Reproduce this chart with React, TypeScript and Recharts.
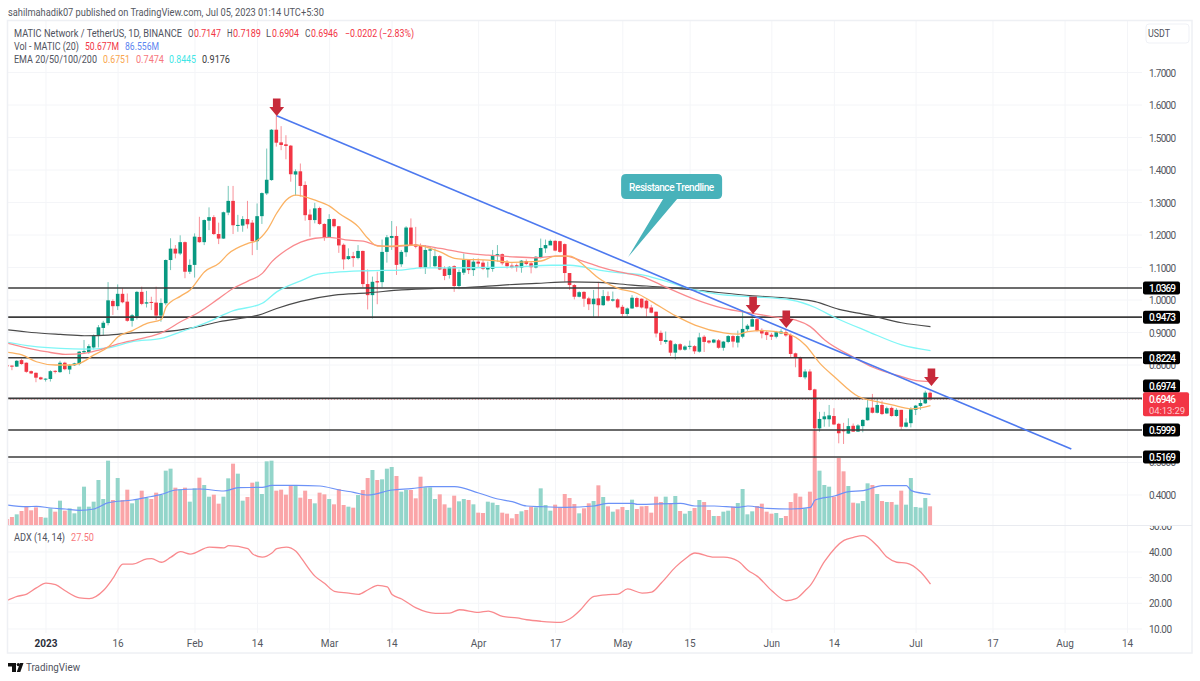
import React from 'react';
import { ComposedChart, Bar, Line, XAxis, YAxis, CartesianGrid, ReferenceLine, ReferenceDot } from 'recharts';

// Day numbers count from 1 Jan 2023 = 0. First candle is day -8.
const FIRST_DAY = -8;
// [open, high, low, close]
const candlesDecFeb: number[][] = [
[.799,.800,.795,.796],[.798,.799,.784,.795],[.795,.815,.794,.813],[.815,.819,.801,.803],[.807,.808,.776,.779],[.781,.783,.772,.774],[.776,.777,.747,.761],[.762,.764,.754,.756],
[.755,.759,.749,.758],[.757,.784,.749,.781],[.782,.784,.774,.779],[.778,.813,.776,.807],[.807,.810,.784,.787],[.786,.803,.772,.799],[.799,.807,.797,.805],[.803,.843,.799,.841],[.839,.877,.836,.843],[.840,.864,.834,.858],[.854,.894,.848,.890],[.889,.923,.854,.916],[.914,.936,.892,.930],[.929,1.055,.922,.999],[.997,1.002,.954,.981],[.981,1.048,.969,1.019],[1.019,1.036,.990,.993],[.995,1.020,.933,.936],[.936,.957,.918,.953],[.949,1.028,.940,1.025],[1.025,1.041,.984,.988],[.989,1.028,.977,.993],[.994,1.010,.969,.992],[.992,1.041,.938,.952],[.952,1.005,.933,.991],[.990,1.125,.984,1.123],[1.123,1.190,1.092,1.158],[1.158,1.169,1.128,1.143],[1.143,1.199,1.138,1.178],[1.178,1.180,1.067,1.087],[1.087,1.125,1.080,1.108],[1.108,1.205,1.069,1.195],
[1.194,1.256,1.176,1.178],[1.178,1.248,1.169,1.246],[1.244,1.285,1.215,1.255],[1.255,1.261,1.200,1.203],[1.203,1.238,1.172,1.189],[1.189,1.272,1.188,1.270],[1.269,1.351,1.261,1.305],[1.305,1.351,1.203,1.230],[1.229,1.262,1.210,1.231],[1.229,1.258,1.210,1.249],[1.249,1.305,1.220,1.233],[1.238,1.246,1.138,1.181],[1.181,1.297,1.154,1.258],[1.258,1.331,1.234,1.329],[1.328,1.466,1.323,1.370],[1.369,1.526,1.367,1.524],[1.524,1.568,1.472,1.484],[1.485,1.535,1.461,1.477],[1.479,1.507,1.433,1.474],[1.475,1.477,1.364,1.387],[1.386,1.402,1.321,1.396],[1.396,1.420,1.318,1.351],
];
const candlesFebApr: number[][] = [
[1.354,1.365,1.244,1.261],[1.263,1.279,1.195,1.246],[1.246,1.299,1.236,1.282],[1.283,1.287,1.231,1.234],[1.234,1.236,1.182,1.193],[1.193,1.264,1.192,1.249],[1.249,1.251,1.223,1.227],[1.227,1.228,1.145,1.168],[1.170,1.174,1.094,1.125],[1.126,1.159,1.123,1.135],[1.135,1.148,1.102,1.129],[1.129,1.169,1.125,1.151],[1.151,1.152,1.039,1.049],[1.049,1.094,.971,1.015],[1.015,1.072,.943,1.056],[1.058,1.087,.987,1.054],[1.055,1.186,1.039,1.148],[1.148,1.200,1.115,1.193],[1.191,1.243,1.154,1.197],[1.197,1.227,1.077,1.108],[1.110,1.154,1.102,1.148],[1.147,1.227,1.133,1.223],[1.223,1.251,1.168,1.169],[1.171,1.225,1.159,1.164],[1.166,1.174,1.097,1.100],[1.100,1.169,1.080,1.154],[1.152,1.164,1.100,1.156],[1.104,1.159,1.100,1.135],[1.135,1.138,1.092,1.094],[1.097,1.104,1.061,1.074],[1.077,1.104,1.066,1.102],[1.104,1.107,1.025,1.043],[1.043,1.094,1.033,1.086],[1.084,1.143,1.077,1.123],[1.123,1.125,1.080,1.092],[1.092,1.128,1.074,1.118],[1.118,1.128,1.100,1.112],
[1.115,1.123,1.092,1.096],[1.094,1.118,1.069,1.099],[1.096,1.154,1.087,1.138],[1.137,1.169,1.118,1.141],[1.141,1.143,1.107,1.113],[1.115,1.123,1.097,1.104],[1.106,1.113,1.097,1.100],[1.107,1.112,1.087,1.101],[1.100,1.123,1.084,1.121],[1.120,1.125,1.107,1.111],[1.113,1.118,1.082,1.101],[1.100,1.135,1.097,1.133],[1.132,1.189,1.128,1.160],[1.159,1.186,1.145,1.169],[1.168,1.186,1.169,1.182],[1.182,1.184,1.150,1.152],[1.181,1.182,1.145,1.148],[1.172,1.174,1.056,1.083],
];
const candlesAprJul: number[][] = [
[1.083,1.083,1.031,1.046],[1.046,1.049,1.002,1.010],[1.010,1.027,1.008,1.024],[1.025,1.027,.979,1.004],[1.005,1.010,.969,.987],[.987,1.031,.948,1.004],[1.005,1.056,.948,.984],[.984,1.031,.982,1.012],[1.012,1.026,.995,.998],[.998,1.026,.995,1.002],[1.002,1.005,.974,.977],[.979,.985,.947,.957],[.957,.977,.951,.974],[.974,1.015,.973,1.007],[1.006,1.010,.977,.979],[1.004,1.005,.974,.977],[.998,1.002,.947,.974],[.977,.985,.959,.961],[.964,.964,.885,.897],[.899,.906,.862,.874],[.871,.903,.865,.877],[.875,.877,.828,.838],[.838,.867,.817,.864],[.864,.867,.844,.847],[.847,.861,.844,.857],[.856,.875,.848,.859],[.858,.861,.834,.842],[.841,.899,.838,.885],[.887,.892,.840,.871],[.875,.877,.865,.869],[.869,.880,.867,.878],[.876,.880,.850,.853],[.853,.874,.844,.872],[.871,.892,.867,.889],[.889,.892,.854,.872],[.869,.906,.854,.889],[.887,.969,.882,.911],[.910,.926,.903,.921],[.918,.954,.918,.941],[.941,.947,.903,.905],[.908,.913,.882,.897],[.901,.905,.877,.892],[.893,.899,.877,.887],[.887,.905,.882,.901],[.897,.910,.895,.903],[.901,.908,.887,.891],[.892,.897,.824,.834],[.836,.838,.793,.824],[.824,.826,.762,.763],[.762,.787,.756,.780],[.780,.787,.721,.723],[.725,.727,.513,.605],[.605,.656,.595,.634],[.633,.656,.610,.642],[.633,.677,.610,.645],[.643,.667,.615,.617],[.619,.622,.559,.590],[.600,.622,.557,.596],[.589,.636,.588,.612],[.613,.620,.594,.595],[.595,.618,.594,.614],[.612,.633,.593,.631],[.630,.697,.629,.669],[.669,.711,.651,.653],[.653,.695,.651,.677],[.677,.690,.646,.649],[.651,.672,.649,.667],[.668,.672,.641,.643],[.643,.667,.641,.662],[.662,.662,.602,.610],[.610,.636,.608,.623],[.621,.670,.608,.664],[.662,.677,.646,.675],[.674,.694,.662,.683],[.682,.721,.680,.715],[.7147,.7189,.6904,.6946],
];
const volumesDecMar = [18,24,32,42,55,44,53,24,22,50,40,73,43,50,35,55,115,55,70,135,78,193,75,141,75,106,65,77,103,82,78,97,90,163,169,112,107,112,70,110,142,120,85,91,64,85,140,184,154,73,84,127,130,93,191,193,103,106,91,120,117,82,103,78,65,97,92,78,62,108,60,55,52,90,105,141,165,135,137,169,174,147,100,105,105,80,145,113,113,78,92,62,52,88,71,78,75,62,37];
const volumesAprJul = [36,70,67,60,37,34,20,33,41,45,55,53,110,60,43,61,53,93,81,63,35,50,65,72,119,84,56,40,47,54,45,76,48,56,57,37,85,69,85,63,87,42,34,42,51,75,69,45,27,27,40,43,55,66,108,32,41,57,64,40,34,36,21,27,69,95,85,50,100,285,163,120,115,85,201,161,117,67,65,72,125,120,93,72,69,69,61,103,61,141,54,52,81,56];

const ema20: number[][] = [[-8,.839],[-5,.831],[-2,.810],[2,.800],[5,.800],[7,.805],[10,.831],[13,.856],[15,.887],[18,.906],[21,.928],[24,.940],[25,.979],[28,1.012],[30,1.031],[33,1.087],[36,1.113],[38,1.143],[42,1.174],[44,1.184],[46,1.215],[48,1.267],[50,1.308],[52,1.323],[56,1.307],[59,1.289],[61,1.266],[65,1.225],[67,1.189],[69,1.166],[72,1.166],[75,1.169],[77,1.169],[80,1.159],[82,1.148],[85,1.128],[87,1.125],[92,1.123],[94,1.120],[97,1.116],[101,1.118],[103,1.120],[106,1.135],[109,1.135],[111,1.118],[113,1.092],[115,1.067],[119,1.036],[123,1.020],[126,.995],[131,.951],[135,.923],[141,.899],[144,.895],[146,.903],[149,.906],[154,.897],[158,.861],[161,.805],[164,.764],[169,.703],[173,.687],[176,.677],[180,.665],[184,.675]];
const ema50: number[][] = [[-8,.867],[-5,.856],[0,.841],[4,.833],[8,.836],[11,.846],[15,.865],[20,.882],[24,.899],[28,.933],[32,.964],[36,1.005],[39,1.036],[42,1.058],[45,1.082],[47,1.118],[50,1.154],[53,1.178],[56,1.190],[59,1.193],[63,1.184],[66,1.181],[69,1.167],[72,1.164],[77,1.169],[82,1.159],[87,1.145],[92,1.138],[97,1.133],[102,1.130],[106,1.135],[108,1.136],[111,1.123],[115,1.103],[119,1.087],[124,1.072],[128,1.046],[135,1.002],[141,.974],[147,.959],[151,.949],[156,.938],[159,.918],[162,.877],[168,.824],[172,.793],[178,.764],[181,.752],[184,.749]];
const ema100: number[][] = [[-8,.870],[-3,.858],[3,.851],[8,.849],[13,.853],[18,.872],[24,.882],[28,.902],[33,.928],[39,.967],[45,.990],[48,1.025],[53,1.059],[56,1.077],[60,1.085],[67,1.090],[74,1.092],[78,1.099],[84,1.099],[91,1.100],[98,1.102],[105,1.107],[109,1.107],[115,1.092],[119,1.084],[124,1.077],[128,1.062],[135,1.031],[140,1.017],[147,1.010],[155,1.000],[160,.977],[164,.947],[171,.903],[178,.862],[184,.844]];
const ema200: number[][] = [[-8,.908],[-3,.900],[3,.894],[8,.890],[13,.892],[18,.899],[24,.902],[31,.916],[36,.933],[45,.957],[48,.974],[53,.996],[60,1.015],[67,1.022],[74,1.031],[81,1.036],[88,1.039],[95,1.046],[102,1.051],[109,1.056],[115,1.054],[122,1.046],[129,1.039],[136,1.029],[147,1.013],[155,1.005],[160,.995],[165,.971],[171,.954],[178,.930],[184,.918]];
const volumeMa: number[][] = [[-8,60],[-4,55],[-2,56],[1,51],[4,48],[7,44],[10,48],[13,67],[18,75],[21,83],[24,92],[27,105],[32,108],[37,102],[40,112],[45,113],[47,119],[52,119],[57,117],[61,105],[64,98],[67,90],[72,105],[76,109],[80,115],[85,115],[90,96],[94,78],[97,70],[100,57],[103,55],[108,53],[114,57],[117,65],[122,65],[123,62],[132,65],[135,57],[139,57],[144,53],[146,57],[150,50],[155,48],[159,53],[160,75],[164,87],[167,100],[170,103],[174,118],[179,118],[180,103],[184,92]];
const adx: number[][] = [[-8,21.2],[-6,22.7],[-4,23.6],[-2,26],[0,27.9],[2,27.3],[4,24.9],[7,22.1],[9,21.8],[12,25.1],[14,29.9],[16,35.3],[18,35.3],[21,37.3],[22,37.4],[24,36],[26,38],[28,40.1],[30,39.2],[34,41.9],[37,41.6],[38,42.5],[42,41.3],[43,39.2],[45,38],[47,39.6],[48,41.3],[50,41.9],[52,40.3],[53,37.9],[56,30.5],[58,27.7],[60,24.7],[63,24],[65,23.5],[67,25.3],[69,27],[71,26.4],[72,23.4],[74,21.7],[77,18.2],[81,16.1],[84,16.2],[86,17.5],[90,16.5],[92,17],[95,14.9],[98,14.3],[100,13.6],[103,13],[107,12.6],[109,14],[111,17.1],[114,22.7],[117,23.4],[119,23.6],[121,25.6],[124,24],[126,24.4],[128,27.9],[131,34.2],[133,37.4],[135,39.6],[139,38],[141,38],[144,36.4],[146,32.9],[148,30.5],[151,24.9],[154,21],[156,21.8],[158,25.1],[159,27],[162,36.4],[166,44.5],[168,45.7],[170,46.4],[173,42.2],[175,37.9],[177,36],[179,35.7],[182,32.1],[184,27.5]];

const priceTicks = [0.4,0.5,0.6,0.7,0.8,0.9,1.0,1.1,1.2,1.3,1.4,1.5,1.6,1.7];
const levels = [1.0369,0.9473,0.8224,0.6974,0.5999,0.5169];
const lastPrice = 0.6946;
const countdown = '04:13:29';
const adxTicks = [50,40,30,20,10];
const dateTicks = [0,15,31,44,59,72,90,106,120,134,151,164,181,197,212,225];
const dateLabels = ['2023','16','Feb','14','Mar','14','Apr','17','May','15','Jun','14','Jul','17','Aug','14'];
const trendline = [{ x: 48, y: 1.567 }, { x: 213.3, y: 0.5415 }];
const arrows: number[][] = [[48,1.566],[147.1,0.957],[154,0.914],[184.2,0.735]];
const calloutTip = [121.1, 1.132];
const calloutText = 'Resistance Trendline';

const FONT = 'Roboto, "Noto Sans", sans-serif';
const UP = '#089981', DOWN = '#f23645';
const VOL_UP = '#93d5ca', VOL_DOWN = '#faa5a8';
const GRID = '#f4f5f8';
const X_DOMAIN: [number, number] = [-7.9, 228];

const allCandles = [...candlesDecFeb, ...candlesFebApr, ...candlesAprJul];
const allVolumes = [...volumesDecMar, ...volumesAprJul];
const lookup = (list: number[][]) => new Map(list.map(([d, v]) => [d, v]));
const m20 = lookup(ema20), m50 = lookup(ema50), m100 = lookup(ema100), m200 = lookup(ema200), mVol = lookup(volumeMa), mAdx = lookup(adx);
const rows = allCandles.map(([o, h, l, c], i) => {
  const day = FIRST_DAY + i;
  return {
    day, o, h, l, c, range: [l, h], vol: allVolumes[i],
    e20: m20.get(day) ?? null, e50: m50.get(day) ?? null, e100: m100.get(day) ?? null,
    e200: m200.get(day) ?? null, volMa: mVol.get(day) ?? null, adx: mAdx.get(day) ?? null,
  };
});

function Candle(p: any) {
  const { x, y, width, height, payload } = p;
  if (height == null || !payload) return null;
  const { o, h, l, c } = payload;
  const py = (v: number) => y + ((h - v) / (h - l)) * height;
  const color = c >= o ? UP : DOWN;
  const top = Math.min(py(o), py(c));
  const bh = Math.max(Math.abs(py(o) - py(c)), 1);
  const cx = x + width / 2;
  return (
    <g>
      <line x1={cx} x2={cx} y1={y} y2={y + height} stroke={color} strokeOpacity={0.55} strokeWidth={1} />
      <rect x={cx - 1.8} y={top} width={3.6} height={bh} fill={color} />
    </g>
  );
}
function VolumeBar(p: any) {
  const { x, y, width, height, payload } = p;
  return <rect x={x} y={y} width={width} height={height} fill={payload.c >= payload.o ? VOL_UP : VOL_DOWN} />;
}
function PriceTick(p: any) {
  const { x, y, payload } = p;
  const v = payload.value;
  const label = v.toFixed(4);
  if (v === lastPrice) {
    return (
      <g>
        <rect x={x - 6} y={y - 7} width={46} height={24} rx={2} fill={DOWN} />
        <text x={x} y={y + 0.5} fontSize={10} fontFamily={FONT} fontWeight={500} fill="#fff" dominantBaseline="central" textLength={27}>{label}</text>
        <text x={x} y={y + 11} fontSize={9.5} fontFamily={FONT} fill="#ffc9cd" dominantBaseline="central" textLength={36}>{countdown}</text>
      </g>
    );
  }
  if (levels.includes(v)) {
    const cy = v === 0.6974 ? y - 12.3 : y;
    return (
      <g>
        <rect x={x - 6} y={cy - 6.5} width={37} height={13} rx={2} fill="#000" />
        <text x={x} y={cy + 0.5} fontSize={10} fontFamily={FONT} fontWeight={500} fill="#fff" dominantBaseline="central" textLength={27}>{label}</text>
      </g>
    );
  }
  return <text x={x} y={y + 0.5} fontSize={10} fontFamily={FONT} fill="#545760" dominantBaseline="central" textLength={27}>{label}</text>;
}
function AdxTick(p: any) {
  const { x, y, payload } = p;
  const id = 'adxclip' + payload.value;
  return (
    <g>
      <clipPath id={id}><rect x={x - 2} y={y - 8} width={40} height={payload.value === 10 ? 12 : 16} /></clipPath>
      <text x={x} y={y + 0.5} fontSize={10} fontFamily={FONT} fill="#545760" dominantBaseline="central" textLength={23} clipPath={`url(#${id})`}>{payload.value.toFixed(2)}</text>
    </g>
  );
}
function DateTick(p: any) {
  const { x, y, payload } = p;
  const i = dateTicks.indexOf(payload.value);
  const bold = dateLabels[i] === '2023';
  return <text x={x} y={y} fontSize={10} fontFamily={FONT} fontWeight={bold ? 700 : 400} fill={bold ? '#2a2e39' : '#545760'} textAnchor="middle" dominantBaseline="central">{dateLabels[i]}</text>;
}
function ArrowMark(p: any) {
  const { cx, cy } = p;
  const d = `M${cx - 3.8} ${cy - 17.5}H${cx + 3.8}V${cy - 9}H${cx + 7.4}L${cx} ${cy}L${cx - 7.4} ${cy - 9}H${cx - 3.8}Z`;
  return <path d={d} fill="#c72a3a" />;
}
function Callout(p: any) {
  const { cx, cy } = p;
  const l = cx - 7, r = cx + 94, t = cy - 83, b = cy - 58, q = 5;
  const d = `M${l + q} ${t}H${r - q}Q${r} ${t} ${r} ${t + q}V${b - q}Q${r} ${b} ${r - q} ${b}H${cx + 49}L${cx} ${cy}L${cx + 35} ${b}H${l + q}Q${l} ${b} ${l} ${b - q}V${t + q}Q${l} ${t} ${l + q} ${t}Z`;
  return (
    <g>
      <path d={d} fill="#48b2ba" />
      <text x={cx + 1} y={cy - 70} fontSize={10} fontFamily={FONT} fontWeight={500} fill="#fff" dominantBaseline="central" textLength={85}>{calloutText}</text>
    </g>
  );
}
function T({ x, y, w, fill = '#50535e', size = 10, weight = 400, children }: any) {
  return <text x={x} y={y} textLength={w} lengthAdjust="spacingAndGlyphs" fontSize={size} fontWeight={weight} fontFamily={FONT} fill={fill} dominantBaseline="central">{children}</text>;
}

const hiddenX = (id: string) => (
  <XAxis key={id} xAxisId={id} dataKey="day" type="number" domain={X_DOMAIN} allowDataOverflow hide ticks={dateTicks} />
);

export default function App() {
  return (
    <div style={{ position: 'absolute', left: 0, top: 0, width: 1200, height: 681, background: '#fff', overflow: 'hidden' }}>
      <div style={{ position: 'absolute', left: 0, top: 0 }}>
        <ComposedChart width={1200} height={526} data={rows} margin={{ top: 21, right: 0, bottom: 0, left: 8 }}>
          {hiddenX('main')}
          {hiddenX('vol')}
          <YAxis yAxisId="price" orientation="right" type="number" domain={[0.3046, 1.8585]} allowDataOverflow width={58}
            ticks={[...priceTicks, ...levels, lastPrice]} interval={0} tick={<PriceTick />} tickLine={false} axisLine={false} tickMargin={7} tickSize={0} />
          <YAxis yAxisId="volume" hide type="number" domain={[-3, 1512]} allowDataOverflow />
          <CartesianGrid xAxisId="main" yAxisId="price" stroke={GRID} strokeWidth={1} horizontalValues={priceTicks} verticalValues={dateTicks} />
          <Bar xAxisId="vol" yAxisId="volume" dataKey="vol" barSize={4} shape={<VolumeBar />} isAnimationActive={false} />
          <Line xAxisId="vol" yAxisId="volume" dataKey="volMa" type="monotone" connectNulls dot={false} stroke="#6c92f7" strokeWidth={1.2} isAnimationActive={false} />
          <ReferenceLine xAxisId="main" yAxisId="price" y={lastPrice} stroke={DOWN} strokeOpacity={0.7} strokeWidth={0.8} strokeDasharray="1 2" />
          {levels.map((v) => (
            <ReferenceLine key={v} xAxisId="main" yAxisId="price" y={v} stroke="#3b3b3b" strokeWidth={1.6} />
          ))}
          <Bar xAxisId="main" yAxisId="price" dataKey="range" barSize={4} shape={<Candle />} isAnimationActive={false} />
          <Line xAxisId="main" yAxisId="price" dataKey="e200" type="monotone" connectNulls dot={false} stroke="#4a4a4a" strokeWidth={1.2} isAnimationActive={false} />
          <Line xAxisId="main" yAxisId="price" dataKey="e100" type="monotone" connectNulls dot={false} stroke="#7ff6f6" strokeWidth={1.3} isAnimationActive={false} />
          <Line xAxisId="main" yAxisId="price" dataKey="e50" type="monotone" connectNulls dot={false} stroke="#f98a8e" strokeWidth={1.3} isAnimationActive={false} />
          <Line xAxisId="main" yAxisId="price" dataKey="e20" type="monotone" connectNulls dot={false} stroke="#fbb263" strokeWidth={1.3} isAnimationActive={false} />
          <ReferenceLine xAxisId="main" yAxisId="price" segment={trendline} stroke="#4d79ef" strokeWidth={1.6} ifOverflow="visible" />
          {arrows.map(([d, v]) => (
            <ReferenceDot key={d} xAxisId="main" yAxisId="price" x={d} y={v} shape={<ArrowMark />} ifOverflow="visible" />
          ))}
          <ReferenceDot xAxisId="main" yAxisId="price" x={calloutTip[0]} y={calloutTip[1]} shape={<Callout />} ifOverflow="visible" />
        </ComposedChart>
      </div>
      <div style={{ position: 'absolute', left: 0, top: 525 }}>
        <ComposedChart width={1200} height={130} data={rows} margin={{ top: 1, right: 0, bottom: 0, left: 8 }}>
          <XAxis dataKey="day" type="number" domain={X_DOMAIN} allowDataOverflow ticks={dateTicks} interval={0} height={22}
            tick={<DateTick />} tickLine={false} axisLine={false} tickMargin={10} tickSize={0} />
          <YAxis orientation="right" type="number" domain={[8.44, 50.12]} allowDataOverflow width={58} ticks={adxTicks} interval={0}
            tick={<AdxTick />} tickLine={false} axisLine={false} tickMargin={7} tickSize={0} />
          <CartesianGrid stroke={GRID} strokeWidth={1} horizontalValues={[40, 30, 20, 10]} verticalValues={dateTicks} />
          <Line dataKey="adx" type="monotone" connectNulls dot={false} stroke="#f98a8e" strokeWidth={1.3} isAnimationActive={false} />
        </ComposedChart>
      </div>
      <svg width={1200} height={681} style={{ position: 'absolute', left: 0, top: 0, pointerEvents: 'none' }}>
        <rect x={7.5} y={20.5} width={1184.5} height={632.5} fill="none" stroke="#eef0f4" strokeWidth={1.5} />
        <line x1={8} x2={1192} y1={525.5} y2={525.5} stroke="#e9ebf0" strokeWidth={1} />
        <T x={8} y={12} w={316} size={10.5} fill="#55585f">sahilmahadik07 published on TradingView.com, Jul 05, 2023 01:14 UTC+5:30</T>
        <T x={14} y={33} w={168}>MATIC Network / TetherUS, 1D, BINANCE</T>
        <T x={188} y={33} w={5.5}>O</T><T x={194} y={33} w={27} fill={DOWN}>0.7147</T>
        <T x={227} y={33} w={5.5}>H</T><T x={233} y={33} w={28} fill={DOWN}>0.7189</T>
        <T x={266} y={33} w={5}>L</T><T x={272} y={33} w={27} fill={DOWN}>0.6904</T>
        <T x={305} y={33} w={5.5}>C</T><T x={311} y={33} w={27} fill={DOWN}>0.6946</T>
        <T x={345} y={33} w={69} fill={DOWN}>−0.0202 (−2.83%)</T>
        <T x={14} y={46} w={65}>Vol - MATIC (20)</T>
        <T x={85} y={46} w={34} fill={DOWN}>50.677M</T>
        <T x={125} y={46} w={34} fill="#5c85f0">86.556M</T>
        <T x={14} y={59} w={83}>EMA 20/50/100/200</T>
        <T x={103} y={59} w={27} fill="#f9a64e">0.6751</T>
        <T x={136} y={59} w={28} fill="#f7777c">0.7474</T>
        <T x={169} y={59} w={27} fill="#3fe6e6">0.8445</T>
        <T x={202} y={59} w={28} fill="#3c3c3c">0.9176</T>
        <T x={14} y={537.5} w={51}>ADX (14, 14)</T>
        <T x={71} y={537.5} w={23} fill="#f7777c">27.50</T>
        <rect x={1146} y={24} width={43} height={19} rx={3} fill="#fff" stroke="#eff1f6" strokeWidth={1} />
        <T x={1148} y={33} w={22}>USDT</T>
        <path d="M8 663H16V672H12V666.5H8Z" fill="#111" />
        <circle cx={18.3} cy={664.6} r={1.6} fill="#111" />
        <path d="M16.8 672L20 663H23.5L20.3 672Z" fill="#111" />
        <T x={26} y={667} w={54} size={10.5} fill="#50535e">TradingView</T>
      </svg>
    </div>
  );
}
